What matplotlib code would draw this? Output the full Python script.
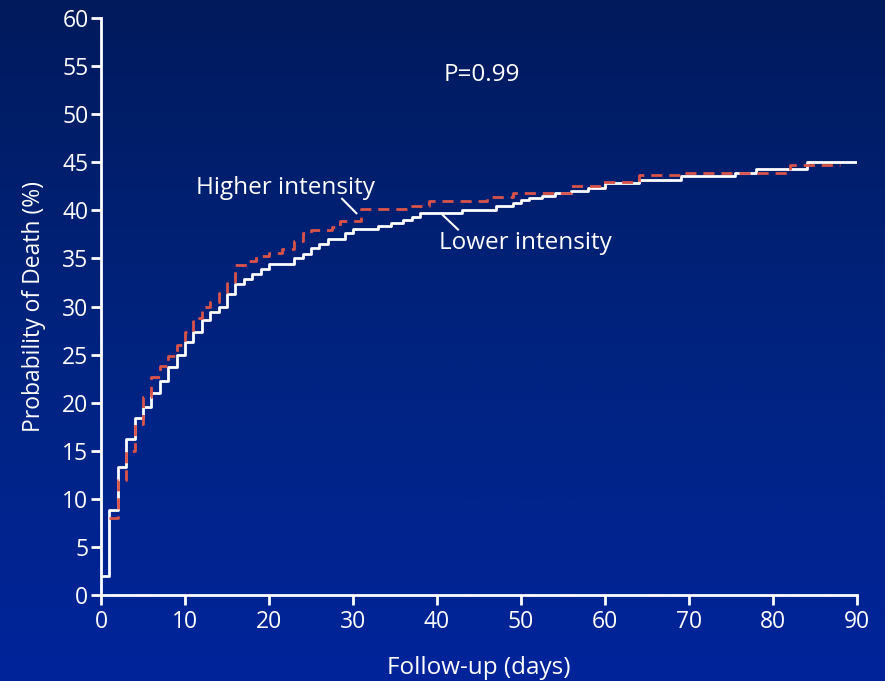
import numpy as np
import matplotlib
matplotlib.use("Agg")
import matplotlib.pyplot as plt
from matplotlib.colors import LinearSegmentedColormap

# Kaplan-Meier style cumulative mortality
lower_days = [0, 1, 2, 3, 4, 5, 6, 7, 8, 9, 10, 11, 12, 13, 14, 15, 16, 17, 18, 19,
              20, 23, 24, 25, 26, 27, 29, 30, 33, 34.5, 36, 37, 38, 43, 47, 49, 50,
              51, 52.5, 54, 56, 58, 60, 64, 69, 75.5, 78, 84, 90]
lower_vals = [2.0, 8.8, 13.3, 16.2, 18.4, 19.5, 21.0, 22.3, 23.7, 25.0, 26.3, 27.4,
              28.6, 29.4, 30.0, 31.3, 32.3, 32.9, 33.4, 33.9, 34.4, 35.0, 35.5, 36.1,
              36.5, 37.0, 37.6, 38.1, 38.4, 38.7, 39.0, 39.3, 39.7, 40.0, 40.5, 40.8,
              41.1, 41.3, 41.5, 41.8, 42.0, 42.3, 42.8, 43.2, 43.6, 43.9, 44.3, 45.0,
              45.0]

higher_days = [1, 2, 3, 4, 5, 6, 7, 8, 9, 10, 11, 12, 13, 14, 15, 16, 17.5, 18.5, 20,
               21.5, 23, 24, 25, 27.5, 28.5, 31, 37, 39, 46, 49, 56, 59.5, 64, 69, 82,
               88]
higher_vals = [8.0, 12.0, 15.0, 17.8, 20.6, 22.7, 23.8, 24.9, 26.0, 27.4, 28.8, 30.0,
               30.5, 31.4, 32.4, 34.3, 34.7, 35.2, 35.6, 36.0, 36.8, 37.6, 38.0, 38.3,
               38.9, 40.1, 40.4, 41.0, 41.4, 41.8, 42.5, 42.9, 43.7, 43.9, 44.7, 44.7]

x_ticks = list(range(0, 91, 10))
y_ticks = list(range(0, 61, 5))

plt.rcParams["font.family"] = ["Open Sans", "DejaVu Sans"]

fig = plt.figure(figsize=(8.85, 6.81), dpi=100)

# gradient background: dark navy at top, brighter blue at bottom
bg = fig.add_axes([0, 0, 1, 1])
cmap = LinearSegmentedColormap.from_list("bg", ["#001a5c", "#00237f", "#00239b"])
bg.imshow(np.linspace(0, 1, 256).reshape(-1, 1), aspect="auto", cmap=cmap,
          extent=[0, 1, 0, 1], origin="upper")
bg.axis("off")

ax = fig.add_axes([101 / 885, 1 - 595 / 681, 756 / 885, 577 / 681])
ax.patch.set_alpha(0)

ax.step(lower_days, lower_vals, where="post", color="white", lw=2.0, zorder=3)
ax.step(higher_days, higher_vals, where="post", color="#d9534a", lw=2.0,
        linestyle=(0, (4, 2.5)), zorder=4)

ax.set_xlim(0, 90)
ax.set_ylim(0, 60)
ax.set_xticks(x_ticks)
ax.set_yticks(y_ticks)

for side in ["top", "right"]:
    ax.spines[side].set_visible(False)
for side in ["left", "bottom"]:
    ax.spines[side].set_color("white")
    ax.spines[side].set_linewidth(2)

ax.tick_params(colors="white", direction="out", length=7, width=2,
               labelsize=16.5, pad=2)
ax.tick_params(axis="x", pad=4)

ax.set_xlabel("Follow-up (days)", color="white", fontsize=17.5, labelpad=16)
ax.set_ylabel("Probability of Death (%)", color="white", fontsize=16.5, labelpad=12)

ax.text(45.3, 54.1, "P=0.99", color="white", fontsize=17.5, ha="center", va="center")
ax.text(11.3, 42.3, "Higher intensity", color="white", fontsize=17.5,
        ha="left", va="center")
ax.text(40.2, 36.6, "Lower intensity", color="white", fontsize=17.5,
        ha="left", va="center")
ax.plot([28.7, 30.4], [41.2, 39.7], color="white", lw=1.5, zorder=5)
ax.plot([40.7, 42.5], [39.5, 38.0], color="white", lw=1.5, zorder=5)

plt.savefig("out.png", dpi=100)
